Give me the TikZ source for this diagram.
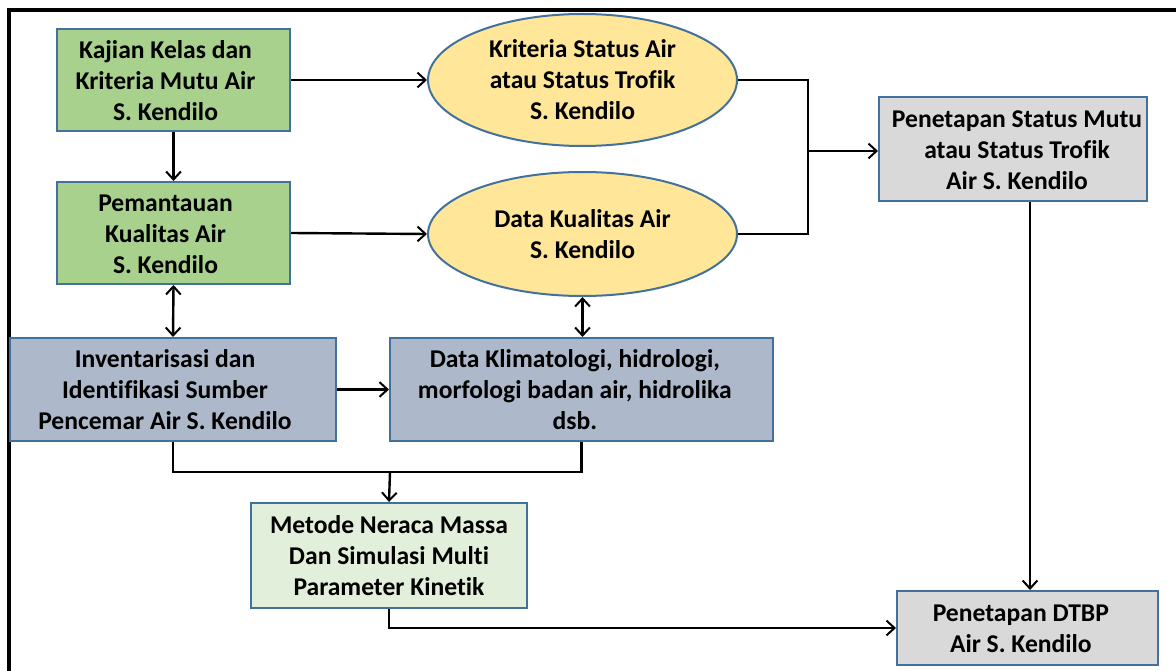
\documentclass[tikz,border=0pt]{standalone}
\usepackage{fontspec}
\setmainfont{Carlito}[Ligatures=NoCommon]
\usetikzlibrary{arrows.meta,shapes.geometric}
\definecolor{bordblue}{HTML}{41719C}
\definecolor{greenA}{HTML}{A9D18E}
\definecolor{yellowC}{HTML}{FFE699}
\definecolor{grayE}{HTML}{D9D9D9}
\definecolor{blueF}{HTML}{ADB9CA}
\definecolor{greenH}{HTML}{E2EFDA}
\newcommand{\boxlines}[3]{\begin{tabular}{@{\hspace{#1}}c@{\hspace{#2}}}\rule{0pt}{20.6pt}#3\end{tabular}}
\tikzset{
  px/.style={x=0.75pt,y=-0.75pt},
  base/.style={draw=bordblue,line width=1.5pt,inner sep=0pt,
    font=\fontsize{19.2}{23.3}\selectfont\bfseries},
  rbox/.style={base,rectangle},
  ebox/.style={base,ellipse,align=center},
  sz/.style 2 args={minimum width=#1*0.75pt,minimum height=#2*0.75pt},
  conn/.style={line width=1.8pt,-{Straight Barb[length=6pt,width=11pt,line width=1.5pt]}},
  dconn/.style={line width=1.8pt,{Straight Barb[length=6pt,width=11pt,line width=1.5pt]}-{Straight Barb[length=6pt,width=11pt,line width=1.5pt]}},
  plain/.style={line width=1.8pt}
}
\begin{document}
\begin{tikzpicture}[px]
\useasboundingbox (0,0) rectangle (1176,670);
\draw[line width=2.4pt] (9,700) -- (9,10) -- (1200,10);
\node[rbox,fill=greenA,sz={233}{102}] (A) at (173.5,80) {\boxlines{0pt}{12pt}{Kajian Kelas dan\\Kriteria Mutu Air\\S. Kendilo}};
\node[rbox,fill=greenA,sz={233}{102}] (B) at (173.5,233) {\boxlines{0pt}{12pt}{Pemantauan\\Kualitas Air\\S. Kendilo}};
\node[ebox,fill=yellowC,sz={309}{132}] (C) at (582.5,80) {Kriteria Status Air\\atau Status Trofik\\S. Kendilo};
\node[ebox,fill=yellowC,sz={309}{124}] (D) at (582.5,234) {Data Kualitas Air\\S. Kendilo};
\node[rbox,fill=grayE,sz={268}{104}] (E) at (1013,149) {\boxlines{6pt}{0pt}{Penetapan Status Mutu\\atau Status Trofik\\Air S. Kendilo}};
\node[rbox,fill=blueF,sz={326}{103}] (F) at (173,389.5) {\boxlines{0pt}{12pt}{Inventarisasi dan\\Identifikasi Sumber\\Pencemar Air S. Kendilo}};
\node[rbox,fill=blueF,sz={383}{103}] (G) at (581.5,389.5) {\boxlines{0pt}{10pt}{Data Klimatologi, hidrologi,\\morfologi badan air, hidrolika\\dsb.}};
\node[rbox,fill=greenH,sz={276}{105}] (H) at (389,555.5) {\boxlines{0pt}{0pt}{Metode Neraca Massa\\Dan Simulasi Multi\\Parameter Kinetik}};
\node[rbox,fill=grayE,sz={261}{74}] (I) at (1027.5,628) {\boxlines{0pt}{10pt}{Penetapan DTBP\\Air S. Kendilo}};
\coordinate (J1) at (808,151);
\coordinate (J2) at (390,472);
\draw[conn] (A.east) -- (C.west);
\draw[conn] (A.south) -- (B.north);
\draw[conn] (B.east) -- (D.west);
\draw[plain] (C.east) -| (J1);
\draw[plain] (D.east) -| (J1);
\draw[conn] (J1) -- (E.west |- J1);
\draw[dconn] (B.south) -- (F.north);
\draw[dconn] (D.south) -- (D.south |- G.north);
\draw[conn] (F.east) -- (G.west);
\draw[plain] (F.south) |- (J2);
\draw[plain] (G.south) |- (J2);
\draw[conn] (J2) -- (H.north);
\draw[conn] (E.south -| 1030,0) -- (I.north -| 1030,0);
\draw[conn] (H.south) |- (I.west |- 0,628);
\end{tikzpicture}
\end{document}
